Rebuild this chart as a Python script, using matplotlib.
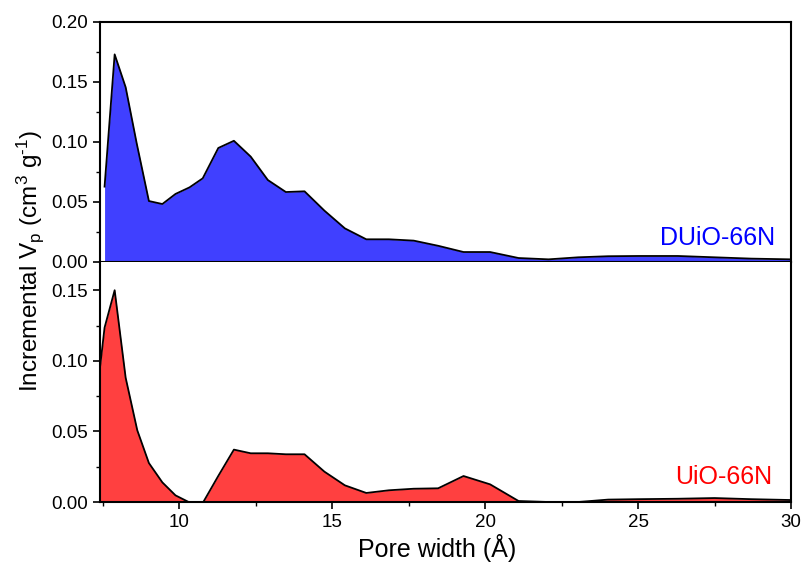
import matplotlib
matplotlib.use("Agg")
import matplotlib.pyplot as plt
from matplotlib.ticker import MultipleLocator

plt.rcParams["font.family"] = ["Liberation Sans", "DejaVu Sans"]
plt.rcParams["mathtext.fontset"] = "custom"
plt.rcParams["mathtext.rm"] = "Liberation Sans"
plt.rcParams["mathtext.it"] = "Liberation Sans:italic"

# pore size distributions (DFT), incremental pore volume in cm3/g
duio_x = [7.55, 7.88, 8.24, 8.6, 9.0, 9.44, 9.87, 10.33, 10.76, 11.27, 11.78,
          12.33, 12.89, 13.48, 14.09, 14.74, 15.41, 16.11, 16.85, 17.66, 18.46,
          19.29, 20.16, 21.09, 22.07, 23.04, 24.02, 25.0, 26.3, 27.5, 28.7, 30.0]
duio_v = [0.0628, 0.173, 0.1456, 0.099, 0.0508, 0.0483, 0.0567, 0.0622, 0.0697,
          0.095, 0.101, 0.0878, 0.0683, 0.0583, 0.0589, 0.0428, 0.028, 0.0189,
          0.0189, 0.0178, 0.0135, 0.0083, 0.0083, 0.0033, 0.0022, 0.0039, 0.0048,
          0.005, 0.005, 0.0039, 0.0028, 0.0022]

uio_x = [7.39, 7.55, 7.88, 8.24, 8.62, 9.0, 9.44, 9.87, 10.3, 10.78, 11.27, 11.78,
         12.33, 12.89, 13.48, 14.09, 14.74, 15.41, 16.11, 16.85, 17.66, 18.46,
         19.29, 20.16, 21.09, 22.07, 23.04, 24.02, 25.0, 26.3, 27.5, 28.7, 30.0]
uio_v = [0.0933, 0.1235, 0.150, 0.088, 0.0508, 0.0276, 0.0139, 0.0047, 0.0, 0.0,
         0.0185, 0.0371, 0.0345, 0.0345, 0.0338, 0.0338, 0.0215, 0.0118, 0.0064,
         0.0083, 0.0094, 0.0097, 0.0184, 0.0125, 0.0007, 0.0, 0.0, 0.0017, 0.002,
         0.0023, 0.0028, 0.002, 0.0014]

fig = plt.figure(figsize=(8.05, 5.65), dpi=100)
ax_top = fig.add_axes([0.1242, 0.5363, 0.8584, 0.4248])
ax_bot = fig.add_axes([0.1242, 0.1115, 0.8584, 0.4248], sharex=ax_top)

panels = [
    (ax_top, duio_x, duio_v, "#4040ff", "#0000ff", "DUiO-66N", 0.20, 0.977, 0.071),
    (ax_bot, uio_x, uio_v, "#ff4040", "#ff0000", "UiO-66N", 0.17, 0.9725, 0.075),
]

for ax, x, v, fill, tcol, name, ymax, tx, ty in panels:
    ax.fill_between(x, 0, v, color=fill, linewidth=0)
    ax.plot(x, v, color="black", lw=1.3)
    ax.set_ylim(0, ymax)
    ax.set_xlim(7.4, 30)
    ax.xaxis.set_major_locator(MultipleLocator(5))
    ax.xaxis.set_minor_locator(MultipleLocator(2.5))
    ax.yaxis.set_major_locator(MultipleLocator(0.05))
    ax.yaxis.set_minor_locator(MultipleLocator(0.025))
    ax.yaxis.set_major_formatter(plt.FormatStrFormatter("%.2f"))
    ax.tick_params(which="major", direction="out", length=5, width=1.2,
                   labelsize=13.5, top=False, right=False)
    ax.tick_params(which="minor", direction="out", length=3, width=1.0,
                   top=False, right=False)
    for sp in ax.spines.values():
        sp.set_linewidth(1.5)
    ax.text(tx, ty, name, transform=ax.transAxes, ha="right", va="baseline",
            color=tcol, fontsize=18)

ax_top.tick_params(axis="x", labelbottom=False)
ax_bot.spines["top"].set_visible(False)
ax_bot.set_yticks([0.0, 0.05, 0.10, 0.15])

fig.text(0.543, 0.03, "Pore width (Å)", ha="center", va="center", fontsize=18)
fig.text(0.037, 0.538, r"Incremental V$_\mathrm{p}$ (cm$^3$ g$^{\text{-1}}$)",
         rotation=90, ha="center", va="center", fontsize=17.5)

fig.savefig("out.png", dpi=100)
